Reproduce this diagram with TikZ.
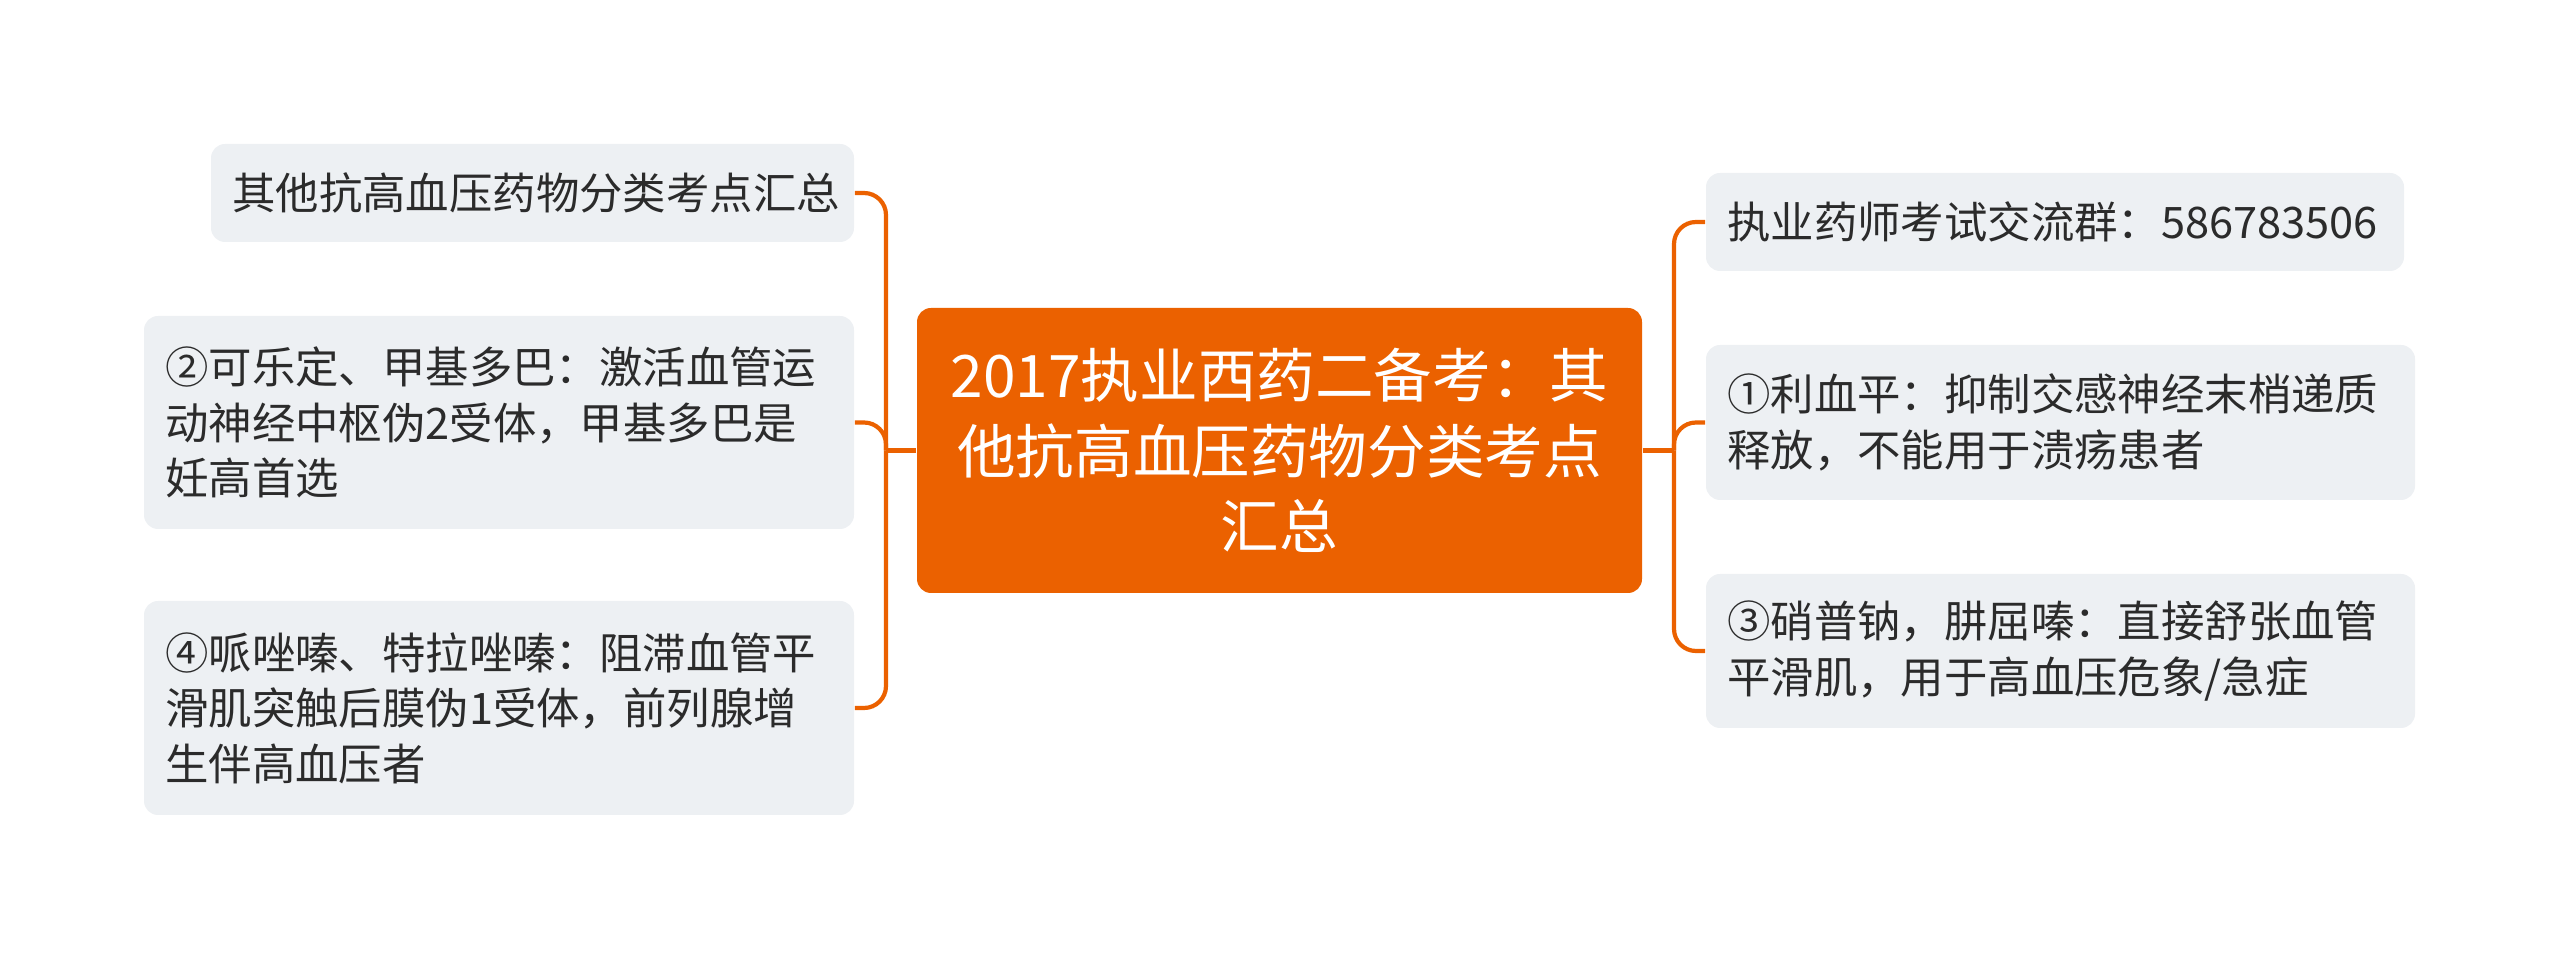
\documentclass[tikz,border=0pt]{standalone}
\usepackage{fontspec}
\setmainfont{Noto Sans CJK SC}
\definecolor{orangemain}{HTML}{EB6100}
\definecolor{boxgray}{HTML}{EDF0F3}
\definecolor{textdark}{HTML}{2B2B2B}
\tikzset{
  conn/.style={draw=orangemain, line width=1.05pt, rounded corners=5.5pt},
  centerbox/.style={fill=orangemain, rounded corners=3.5pt, text=white, align=center,
    inner xsep=0pt, inner ysep=0pt, text width=181.25pt, minimum height=71.25pt,
    font=\fontsize{14.65pt}{18.9pt}\selectfont},
  childbox/.style={fill=boxgray, rounded corners=3.5pt, text=textdark, align=left,
    inner xsep=5.3pt, inner ysep=0pt, font=\fontsize{10.85pt}{13.9pt}\selectfont},
}
\begin{document}
\begin{tikzpicture}[x=0.25pt, y=-0.25pt]
\useasboundingbox (0,0) rectangle (2560,960);
\node[centerbox] (c) at (1279.5,450.5) {2017执业西药二备考：其\\他抗高血压药物分类考点\\汇总};

\node[childbox, text width=150.15pt, minimum width=160.75pt, minimum height=24.5pt] (l1) at (532.5,193) {其他抗高血压药物分类考点汇总};
\node[childbox, text width=166.9pt, minimum width=177.5pt, minimum height=53.25pt] (l2) at (499,422.5) {②可乐定、甲基多巴：激活血管运\\动神经中枢伪2受体，甲基多巴是\\妊高首选};
\node[childbox, text width=166.9pt, minimum width=177.5pt, minimum height=53.5pt] (l3) at (499,708) {④哌唑嗪、特拉唑嗪：阻滞血管平\\滑肌突触后膜伪1受体，前列腺增\\生伴高血压者};

\node[childbox, text width=163.9pt, minimum width=174.5pt, minimum height=24.5pt] (r1) at (2055,222) {执业药师考试交流群：586783506};
\node[childbox, text width=166.65pt, minimum width=177.25pt, minimum height=38.75pt] (r2) at (2060.5,422.5) {①利血平：抑制交感神经末梢递质\\释放，不能用于溃疡患者};
\node[childbox, text width=166.65pt, minimum width=177.25pt, minimum height=38.5pt] (r3) at (2060.5,651) {③硝普钠，肼屈嗪：直接舒张血管\\平滑肌，用于高血压危象/急症};

\coordinate (lt) at (886,450.5);
\coordinate (rt) at (1674,450.5);
\draw[conn] (c.west) -- (lt);
\draw[conn] (lt) |- (l1.east);
\draw[conn] (lt) |- (l2.east);
\draw[conn] (lt) |- (l3.east);
\draw[conn] (c.east) -- (rt);
\draw[conn] (rt) |- (r1.west);
\draw[conn] (rt) |- (r2.west);
\draw[conn] (rt) |- (r3.west);
\end{tikzpicture}
\end{document}
